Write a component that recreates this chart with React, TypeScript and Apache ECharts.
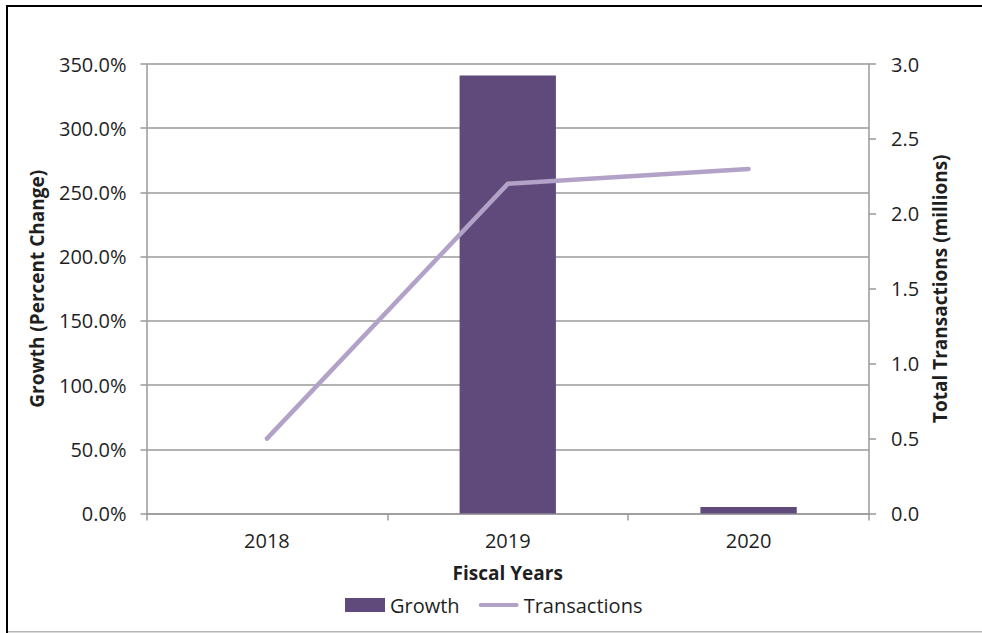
import React, { useEffect, useRef } from "react";
import * as echarts from "echarts";

const categories = ["2018", "2019", "2020"];
const growth = [null, 341, 5];
const transactions = [0.5, 2.2, 2.3];
const leftTicks = { min: 0, max: 350, interval: 50 };
const rightTicks = { min: 0, max: 3, interval: 0.5 };

const FONT = "'Open Sans', 'Noto Sans', sans-serif";
const TXT = "#1f1f1f";
const AXIS = "#9a9a9a";

export default function App() {
  const ref = useRef<HTMLDivElement>(null);
  useEffect(() => {
    const chart = echarts.init(ref.current!, null, { renderer: "svg" });
    chart.setOption({
      animation: false,
      textStyle: { fontFamily: FONT },
      grid: { left: 146.5, right: 113, top: 64, bottom: 119.5, containLabel: false },
      graphic: [
        { type: "rect", shape: { x: 6, y: 5, width: 980, height: 2 }, style: { fill: "#000" }, silent: true },
        { type: "rect", shape: { x: 6, y: 5, width: 2, height: 630 }, style: { fill: "#000" }, silent: true },
        { type: "rect", shape: { x: 8, y: 631, width: 980, height: 1.5 }, style: { fill: "#b5b5b5" }, silent: true },
      ],
      legend: {
        left: 340,
        top: 590,
        itemWidth: 40,
        itemHeight: 14,
        itemGap: 19,
        symbolKeepAspect: true,
        textStyle: { fontFamily: FONT, fontSize: 20, color: TXT },
        data: [
          { name: "Growth", icon: "rect" },
          { name: "Transactions", icon: "path://M2,0 L38,0 A2,2 0 0 1 38,4 L2,4 A2,2 0 0 1 2,0 Z" },
        ],
      },
      xAxis: {
        type: "category",
        data: categories,
        name: "Fiscal Years",
        nameLocation: "middle",
        nameGap: 50,
        nameTextStyle: { fontFamily: FONT, fontSize: 19, fontWeight: "bold", color: TXT },
        axisLine: { lineStyle: { color: AXIS, width: 1.5 } },
        axisTick: { show: true, length: 7, lineStyle: { color: AXIS, width: 1.5 } },
        axisLabel: { fontFamily: FONT, fontSize: 20, color: TXT, margin: 17 },
      },
      yAxis: [
        {
          type: "value",
          ...leftTicks,
          name: "Growth (Percent Change)",
          nameLocation: "middle",
          nameGap: 100,
          nameRotate: 90,
          nameTextStyle: { fontFamily: FONT, fontSize: 19, fontWeight: "bold", color: TXT },
          axisLine: { show: true, lineStyle: { color: AXIS, width: 1.5 } },
          axisTick: { show: true, length: 6, lineStyle: { color: AXIS, width: 1.5 } },
          axisLabel: {
            fontFamily: FONT, fontSize: 20, color: TXT, margin: 20,
            formatter: (v: number) => v.toFixed(1) + "%",
          },
          splitLine: { show: true, lineStyle: { color: AXIS, width: 1.5 } },
        },
        {
          type: "value",
          ...rightTicks,
          position: "right",
          name: "Total Transactions (millions)",
          nameLocation: "middle",
          nameGap: 60,
          nameRotate: 90,
          nameTextStyle: { fontFamily: FONT, fontSize: 19, fontWeight: "bold", color: TXT },
          axisLine: { show: true, lineStyle: { color: AXIS, width: 1.5 } },
          axisTick: { show: true, length: 7, lineStyle: { color: AXIS, width: 1.5 } },
          axisLabel: {
            fontFamily: FONT, fontSize: 20, color: TXT, margin: 22,
            formatter: (v: number) => v.toFixed(1),
          },
          splitLine: { show: false },
        },
      ],
      series: [
        {
          name: "Growth",
          type: "bar",
          data: growth,
          yAxisIndex: 0,
          barWidth: "40%",
          itemStyle: { color: "#604A7B" },
        },
        {
          name: "Transactions",
          type: "line",
          data: transactions,
          yAxisIndex: 1,
          symbol: "none",
          showSymbol: false,
          lineStyle: { color: "#B3A2C7", width: 4.5, cap: "round", join: "round" },
          itemStyle: { color: "#B3A2C7" },
        },
      ],
    });
    return () => chart.dispose();
  }, []);
  return (
    <div style={{ position: "fixed", left: 0, top: 0, width: 982, height: 633, background: "#fff" }}>
      <div ref={ref} style={{ width: 982, height: 633 }} />
    </div>
  );
}
